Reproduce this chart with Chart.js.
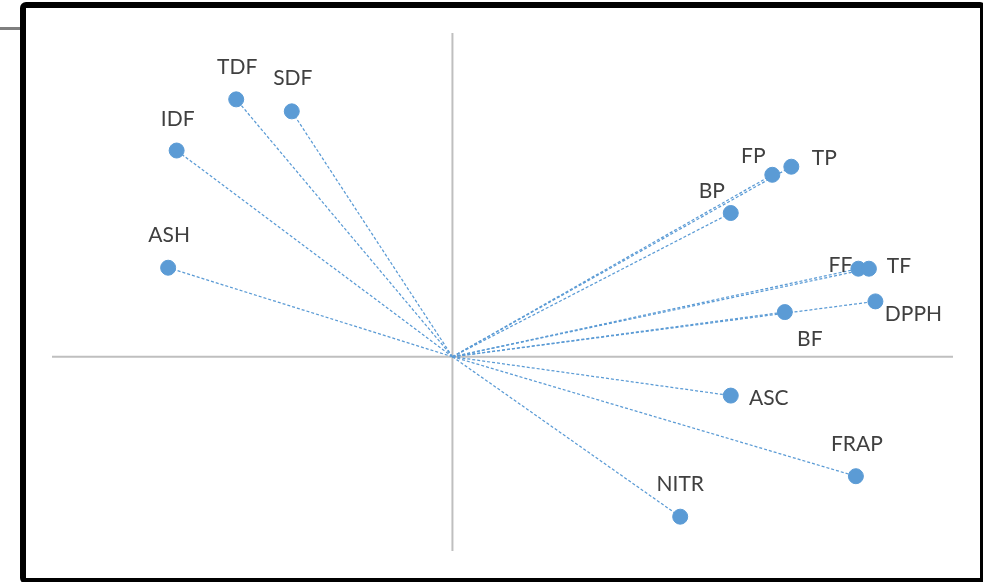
<!DOCTYPE html>
<html>
<head>
<meta charset="utf-8">
<script src="https://cdn.jsdelivr.net/npm/chart.js@4.4.1/dist/chart.umd.min.js"></script>
<style>
  html, body { margin: 0; padding: 0; background: #ffffff; }
  #wrap { position: relative; width: 983px; height: 582px; overflow: hidden; }
  #plot { position: absolute; left: 0; top: 0; }
  #frame {
    position: absolute; left: 20px; top: 2px; width: 966px; height: 582px;
    box-sizing: border-box; border: 6px solid #000; border-radius: 6px;
    pointer-events: none;
  }
  #tick {
    position: absolute; left: 0; top: 27px; width: 21px; height: 3px;
    background: #7f7f7f;
  }
</style>
</head>
<body>
<div id="wrap">
  <canvas id="plot" width="983" height="582"></canvas>
  <div id="tick"></div>
  <div id="frame"></div>
</div>
<script>
// Loadings of each variable on the first two components
const variables = ['TDF', 'SDF', 'IDF', 'ASH', 'FP', 'TP', 'BP', 'FF', 'TF', 'DPPH', 'BF', 'ASC', 'FRAP', 'NITR'];
const comp1 = [-0.432, -0.321, -0.551, -0.568, 0.639, 0.677, 0.556, 0.811, 0.832, 0.845, 0.664, 0.556, 0.806, 0.455];
const comp2 = [0.795, 0.758, 0.637, 0.275, 0.562, 0.587, 0.444, 0.272, 0.272, 0.171, 0.138, -0.120, -0.369, -0.494];

// Axis ranges
const xRange = [-0.8, 1.0];
const yRange = [-0.6, 1.0];

// Where each label sits relative to its marker (pixels)
const labelOffset = {
  TDF: [1, -32], SDF: [1, -33], IDF: [1, -31], ASH: [1, -32],
  FP: [-19, -19], TP: [33, -8], BP: [-19, -22],
  FF: [-18, -3], TF: [30, -2], DPPH: [38, 13], BF: [25, 27],
  ASC: [38, 3], FRAP: [1, -32], NITR: [0, -32]
};

const BLUE = '#5b9bd5';
const points = variables.map((v, i) => ({ x: comp1[i], y: comp2[i], name: v }));

// Dashed rays from the origin to every loading
const rays = points.map(p => ({
  type: 'scatter',
  data: [{ x: 0, y: 0 }, { x: p.x, y: p.y }],
  showLine: true,
  borderColor: BLUE,
  borderWidth: 1.25,
  borderDash: [3, 2],
  pointRadius: 0,
  pointHoverRadius: 0,
  order: 2
}));

// Zero axes
const axisStyle = { type: 'scatter', showLine: true, borderColor: '#bfbfbf', borderWidth: 2, pointRadius: 0, order: 3 };
const axes = [
  Object.assign({ data: [{ x: xRange[0], y: 0 }, { x: xRange[1], y: 0 }] }, axisStyle),
  Object.assign({ data: [{ x: 0, y: yRange[0] }, { x: 0, y: yRange[1] }] }, axisStyle)
];

const markers = {
  type: 'scatter',
  data: points,
  backgroundColor: BLUE,
  borderColor: BLUE,
  pointRadius: 7.5,
  pointHoverRadius: 7.5,
  order: 1
};

const labelPlugin = {
  id: 'variableLabels',
  afterDatasetsDraw(chart) {
    const idx = chart.data.datasets.indexOf(markers);
    const meta = chart.getDatasetMeta(idx);
    const ctx = chart.ctx;
    ctx.save();
    ctx.font = '21px Lato, "Open Sans", sans-serif';
    ctx.fillStyle = '#404040';
    ctx.textAlign = 'center';
    ctx.textBaseline = 'middle';
    meta.data.forEach((el, i) => {
      const name = points[i].name;
      const off = labelOffset[name] || [0, -30];
      ctx.fillText(name, el.x + off[0], el.y + off[1]);
    });
    ctx.restore();
  }
};

new Chart(document.getElementById('plot'), {
  type: 'scatter',
  data: { datasets: [...axes, ...rays, markers] },
  options: {
    responsive: false,
    animation: false,
    layout: { padding: { left: 52, right: 30, top: 33, bottom: 31 } },
    scales: {
      x: { type: 'linear', min: xRange[0], max: xRange[1], display: false },
      y: { type: 'linear', min: yRange[0], max: yRange[1], display: false }
    },
    plugins: { legend: { display: false }, tooltip: { enabled: false } },
    elements: { line: { tension: 0 } }
  },
  plugins: [labelPlugin]
});
</script>
</body>
</html>
